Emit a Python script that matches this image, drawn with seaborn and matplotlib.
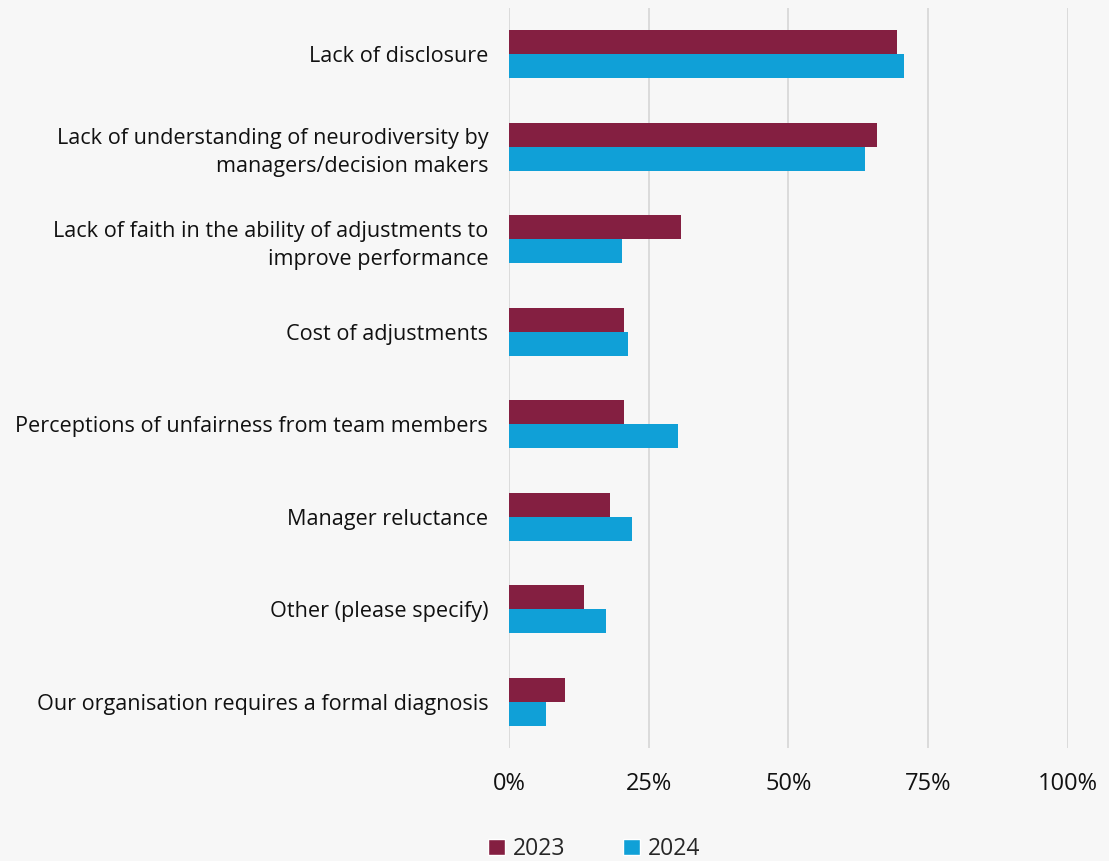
import pandas as pd
import matplotlib.pyplot as plt
import seaborn as sns
from matplotlib.patches import Patch

categories = [
    "Lack of disclosure",
    "Lack of understanding of neurodiversity by\nmanagers/decision makers",
    "Lack of faith in the ability of adjustments to\nimprove performance",
    "Cost of adjustments",
    "Perceptions of unfairness from team members",
    "Manager reluctance",
    "Other (please specify)",
    "Our organisation requires a formal diagnosis",
]
values_2023 = [69.4, 65.8, 30.7, 20.5, 20.5, 18.1, 13.4, 10.1]
values_2024 = [70.6, 63.7, 20.3, 21.2, 30.3, 22.0, 17.3, 6.7]
years = ["2023", "2024"]
colors = ["#841F41", "#10A0D7"]
ticks = [0, 25, 50, 75, 100]
tick_labels = ["0%", "25%", "50%", "75%", "100%"]

df = pd.DataFrame({
    "Category": categories * 2,
    "Value": values_2023 + values_2024,
    "Year": [years[0]] * len(categories) + [years[1]] * len(categories),
})

sns.set_theme(style="white")
plt.rcParams['font.family'] = ['Open Sans', 'DejaVu Sans']
bg = "#F7F7F7"

fig = plt.figure(figsize=(11.09, 8.61), dpi=100, facecolor=bg)
ax = fig.add_axes([0.459, 0.131, 0.504, 0.860])
ax.set_facecolor(bg)

sns.barplot(data=df, y="Category", x="Value", hue="Year", orient="h",
            palette=colors, width=0.52, gap=0, saturation=1,
            edgecolor="none", ax=ax, legend=False)

ax.set_xlim(0, 100)
ax.set_xticks(ticks)
ax.set_xticklabels(tick_labels)
ax.set_ylim(7.5, -0.5)
ax.set_xlabel("")
ax.set_ylabel("")
ax.grid(axis="x", color="#D9D9D9", linewidth=1.3)
ax.set_axisbelow(True)
for s in ax.spines.values():
    s.set_visible(False)
ax.tick_params(axis="both", length=0, colors="#111111")
ax.tick_params(axis="x", pad=17, labelsize=17)
ax.tick_params(axis="y", pad=15, labelsize=15.6)
for lbl in ax.get_yticklabels():
    lbl.set_horizontalalignment("right")
    lbl.set_multialignment("right")
    lbl.set_linespacing(1.45)

handles = [Patch(facecolor=c, label=y) for c, y in zip(colors, years)]
fig.legend(handles=handles, loc="lower center", bbox_to_anchor=(0.536, -0.024),
           ncol=2, frameon=False, fontsize=16.5, handlelength=0.75, handleheight=0.75,
           handletextpad=0.35, columnspacing=2.5)

fig.savefig("out.png", dpi=100, facecolor=bg)
